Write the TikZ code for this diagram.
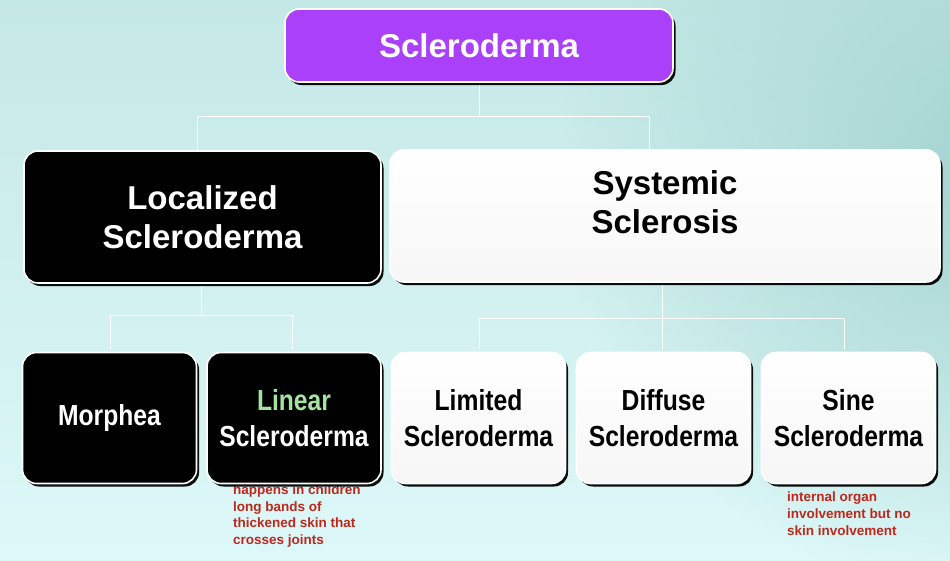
\documentclass[tikz,border=0pt]{standalone}
\usepackage{fontspec}
\setmainfont{Liberation Sans}
\newfontfamily\narrowsf[FakeStretch=0.85]{Liberation Sans}
\usepackage{xcolor}
\usetikzlibrary{positioning,shadows,calc,fadings}
\definecolor{bgtop}{HTML}{C4E8E6}
\definecolor{bgbot}{HTML}{DDF8F8}
\definecolor{bgdark}{HTML}{A2D2CF}
\definecolor{purp}{HTML}{AB40FB}
\definecolor{lingreen}{HTML}{A6E3A0}
\definecolor{notered}{HTML}{BF271C}
\tikzfading[name=softglow, inner color=transparent!0, outer color=transparent!100]

\begin{document}
\begin{tikzpicture}[x=1pt, y=-1pt,
  box/.style={draw=white, line width=1.6pt, rounded corners=14pt, align=center, inner sep=0pt,
    drop shadow={shadow xshift=2.5pt, shadow yshift=-3pt, fill=black, opacity=0.95}},
  dk/.style={box, fill=black, text=white},
  lt/.style={box, top color=white, bottom color=gray!7, text=black},
  big/.style={font=\fontsize{33}{39}\selectfont\bfseries},
  sm/.style={minimum width=174pt, minimum height=131pt, font=\narrowsf\fontsize{29}{36}\selectfont\bfseries},
  link/.style={draw=white, line width=0.9pt},
  nt/.style={font=\fontsize{13.5}{16.6}\selectfont\bfseries, text=notered, align=left, inner sep=0pt, anchor=north west}]
\useasboundingbox (0,0) rectangle (950,560);
\fill[top color=bgtop, bottom color=bgbot] (0,0) rectangle (950,560);
\fill[bgdark, path fading=softglow, fill opacity=0.9] (980,170) circle (420);
% notes go under the boxes
\node[nt] (linnote) at (233,484.5) {happens in children\\long bands of\\thickened skin that\\crosses joints};
\node[nt] (sinenote) at (787,492) {internal organ\\involvement but no\\skin involvement};
% links
\draw[link] (479,82) -- (479,116) -| (197,150);
\draw[link] (479,116) -| (649,150);
\draw[link] (201,282) -- (201,315) -| (110,349);
\draw[link] (201,315) -| (292,349);
\draw[link] (662,282) -- (662,318) -| (479,349);
\draw[link] (662,318) -| (844,349);
\draw[link] (662,318) -- (662,349);
% boxes
\node[box, fill=purp, text=white, big, minimum width=388pt, minimum height=73pt] (top) at (479,45.5) {Scleroderma};
\node[dk, big, minimum width=357pt, minimum height=132pt] (loc) at (202.5,217) {Localized\\Scleroderma};
\node[lt, minimum width=550pt, minimum height=132pt] (sys) at (665,216) {};
\node[big, align=center, inner sep=0pt] (systxt) at (665,202) {Systemic\\Sclerosis};
\foreach \n/\x/\t/\s in {mor/109.5/Morphea/dk, lin/294/{\color{lingreen}Linear\\Scleroderma}/dk,
    lim/478.5/{Limited\\Scleroderma}/lt, dif/663.5/{Diffuse\\Scleroderma}/lt, sin/848.5/{Sine\\Scleroderma}/lt} {
  \node[\s, sm] (\n) at (\x,418) {\t};
}
\end{tikzpicture}
\end{document}
